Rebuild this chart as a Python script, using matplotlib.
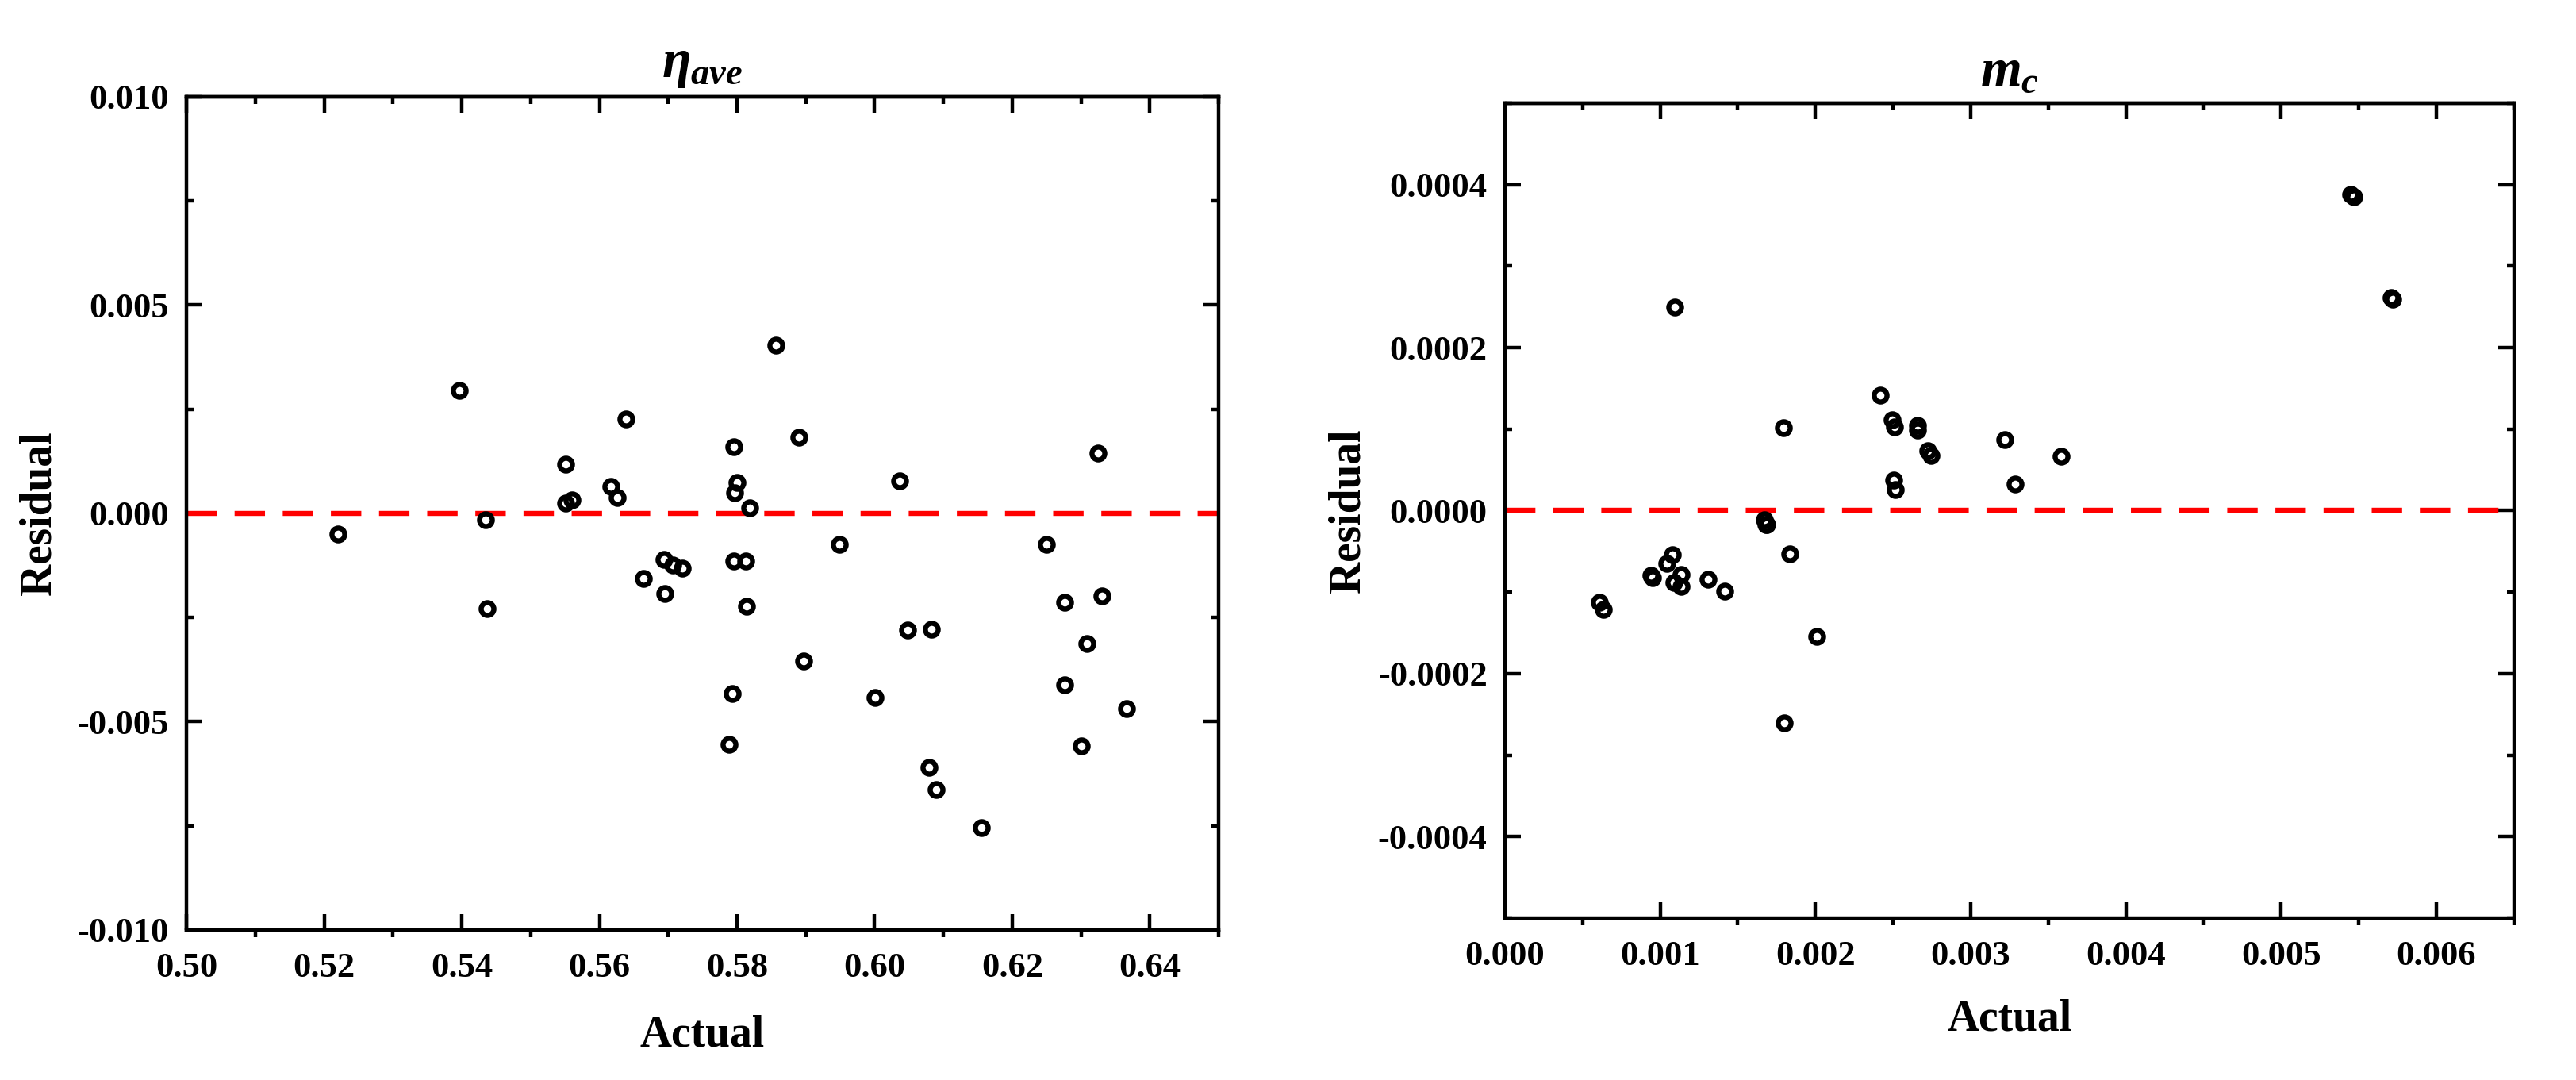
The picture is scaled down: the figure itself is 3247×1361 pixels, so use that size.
import matplotlib
matplotlib.use("Agg")
import matplotlib.pyplot as plt
from matplotlib.ticker import MultipleLocator, FormatStrFormatter

plt.rcParams['font.family'] = ['Liberation Serif', 'DejaVu Serif']
plt.rcParams['font.weight'] = 'bold'
plt.rcParams['mathtext.fontset'] = 'custom'
plt.rcParams['mathtext.rm'] = 'Liberation Serif:bold'
plt.rcParams['mathtext.it'] = 'Liberation Serif:italic:bold'
plt.rcParams['mathtext.bf'] = 'Liberation Serif:bold'
plt.rcParams['axes.unicode_minus'] = True

# ---- data: eta_ave ----
eta_actual = [0.5397, 0.5856, 0.5639, 0.5890, 0.5795, 0.6325, 0.5551, 0.5617,
              0.5626, 0.5800, 0.5797, 0.6036, 0.5551, 0.5560, 0.5819, 0.5435,
              0.5220, 0.5949, 0.6250, 0.5694, 0.5707, 0.5721, 0.5795, 0.5813,
              0.5664, 0.5695, 0.5814, 0.5437, 0.6276, 0.6330, 0.6048, 0.6082,
              0.6309, 0.5897, 0.6276, 0.5793, 0.6001, 0.6366, 0.5789, 0.6300,
              0.6079, 0.6089, 0.6155]
eta_resid = [0.002945, 0.004033, 0.002273, 0.001823, 0.001592, 0.001448, 0.001175, 0.00064,
             0.000377, 0.00075, 0.000488, 0.000785, 0.00024, 0.000326, 0.00013, -0.00016,
             -0.00049, -0.00075, -0.00075, -0.00111, -0.00124, -0.00131, -0.00114, -0.00114,
             -0.00157, -0.00193, -0.00223, -0.00229, -0.00213, -0.00198, -0.00281, -0.00279,
             -0.00313, -0.00355, -0.00411, -0.00432, -0.00442, -0.00468, -0.00554, -0.00558,
             -0.00610, -0.00662, -0.00755]

# ---- data: m_c ----
mc_actual = [0.005451, 0.005470, 0.005710, 0.005720, 0.001093, 0.002419, 0.001793, 0.002493,
             0.002509, 0.002657, 0.002660, 0.002726, 0.002747, 0.003219, 0.003585, 0.002503,
             0.002514, 0.003288, 0.001670, 0.001686, 0.001681, 0.001835, 0.001077, 0.001045,
             0.000939, 0.000949, 0.001135, 0.001087, 0.001135, 0.001310, 0.001416, 0.000611,
             0.000632, 0.002010, 0.001798]
mc_resid = [0.000388, 0.000385, 0.000261, 0.000259, 0.0002497, 0.000142, 0.0001015, 0.0001115,
            0.0001027, 0.000105, 0.0000984, 0.0000736, 0.000068, 0.0000875, 0.0000671, 0.0000376,
            0.0000254, 0.0000323, -0.0000116, -0.0000168, -0.0000173, -0.0000532, -0.000054, -0.0000647,
            -0.0000792, -0.000082, -0.0000783, -0.000088, -0.0000933, -0.0000845, -0.0000986, -0.0001123,
            -0.0001211, -0.0001547, -0.0002607]

panels = [
    dict(rect=[0.0724, 0.1389, 0.4007, 0.7715], x=eta_actual, y=eta_resid,
         title=r'$\eta_{ave}$', xlim=(0.50, 0.65), ylim=(-0.010, 0.010),
         xmaj=0.02, xmin=0.01, ymaj=0.005, ymin=0.0025, xfmt='%.2f', yfmt='%.3f',
         ylabelpad=8, xlabelpad=14, titlepad=9),
    dict(rect=[0.5842, 0.1499, 0.3917, 0.7546], x=mc_actual, y=mc_resid,
         title=r'$m_c$', xlim=(0.0, 0.0065), ylim=(-0.0005, 0.0005),
         xmaj=0.001, xmin=0.0005, ymaj=0.0002, ymin=0.0001, xfmt='%.3f', yfmt='%.4f',
         ylabelpad=4, xlabelpad=12, titlepad=8),
]

fig = plt.figure(figsize=(16.235, 6.805), dpi=200)

for p in panels:
    ax = fig.add_axes(p['rect'])
    ax.plot(p['x'], p['y'], 'o', mfc='none', mec='black', ms=5.8, mew=2.3, zorder=3)
    ax.axhline(0, color='red', lw=2.3, ls=(0, (6, 3.5)), zorder=2)
    ax.set_xlim(*p['xlim'])
    ax.set_ylim(*p['ylim'])
    ax.xaxis.set_major_locator(MultipleLocator(p['xmaj']))
    ax.xaxis.set_minor_locator(MultipleLocator(p['xmin']))
    ax.yaxis.set_major_locator(MultipleLocator(p['ymaj']))
    ax.yaxis.set_minor_locator(MultipleLocator(p['ymin']))
    ax.xaxis.set_major_formatter(FormatStrFormatter(p['xfmt']))
    ax.yaxis.set_major_formatter(FormatStrFormatter(p['yfmt']))
    for s in ax.spines.values():
        s.set_linewidth(1.6)
    ax.tick_params(axis='x', which='major', direction='in', length=7.3, width=1.6,
                   labelsize=16, pad=10, top=False, bottom=True)
    ax.tick_params(axis='x', which='minor', direction='out', length=3.3, width=1.6,
                   top=False, bottom=True)
    ax.tick_params(axis='y', which='major', direction='in', length=7.3, width=1.6,
                   labelsize=16, pad=8, left=True, right=True)
    ax.tick_params(axis='y', which='minor', direction='in', length=3.3, width=1.6,
                   left=True, right=True)
    for lab in ax.get_xticklabels() + ax.get_yticklabels():
        lab.set_fontweight('bold')
    # top axis ticks (inward, no labels)
    sec = ax.secondary_xaxis('top')
    sec.xaxis.set_major_locator(MultipleLocator(p['xmaj']))
    sec.xaxis.set_minor_locator(MultipleLocator(p['xmin']))
    sec.tick_params(which='major', direction='in', length=7.3, width=1.6, labeltop=False)
    sec.tick_params(which='minor', direction='in', length=3.4, width=1.6, labeltop=False)
    sec.spines['top'].set_linewidth(1.6)
    ax.set_xlabel('Actual', fontsize=20, fontweight='bold', labelpad=p['xlabelpad'])
    ax.set_ylabel('Residual', fontsize=20, fontweight='bold', labelpad=p['ylabelpad'])
    ax.set_title(p['title'], fontsize=24, pad=p['titlepad'])

fig.savefig('out.png', dpi=200)
